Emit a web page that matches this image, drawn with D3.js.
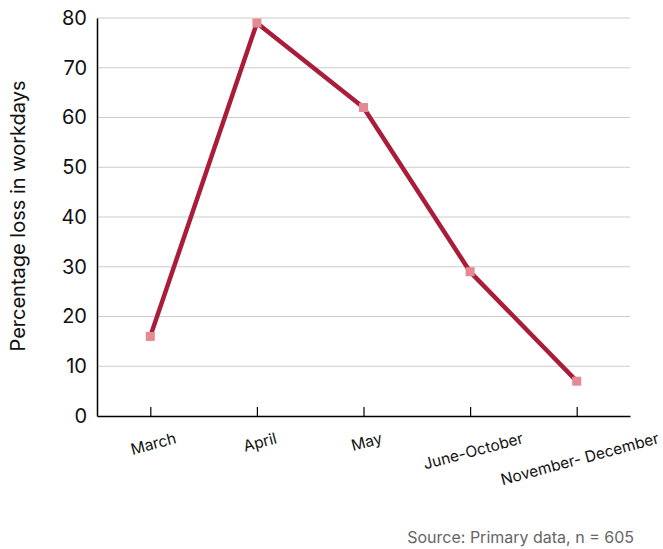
<!DOCTYPE html>
<html><head><meta charset="utf-8">
<script src="https://cdn.jsdelivr.net/npm/d3@7"></script>
<style>body{margin:0;background:#fff;font-family:Inter,"Noto Sans",sans-serif;}</style>
</head><body><svg id="c" width="663" height="549"></svg>
<script>
const categories = ["March","April","May","June-October","November- December"];
const values = [16,79,62,29,7];
const yTicks = [0,10,20,30,40,50,60,70,80];
const yTitle = "Percentage loss in workdays";
const source = "Source: Primary data, n = 605";

const svg = d3.select("#c");
const m = {l:97, r:630, t:18, b:416};
const x = d3.scalePoint().domain(categories).range([m.l, m.r]).padding(0.5);
const y = d3.scaleLinear().domain([0,80]).range([m.b, m.t]);

// gridlines
svg.append("g").selectAll("line").data(yTicks.filter(d=>d>0)).join("line")
  .attr("x1", m.l).attr("x2", m.r).attr("y1", d=>y(d)).attr("y2", d=>y(d))
  .attr("stroke", "#cccccc").attr("stroke-width", 1);

// y axis
const ya = svg.append("g").attr("transform", `translate(${m.l},0)`)
  .call(d3.axisLeft(y).tickValues(yTicks).tickSize(0).tickPadding(10));
ya.select(".domain").attr("stroke", "#000").attr("stroke-width", 1.5);
ya.selectAll("text").attr("font-family","Inter").attr("font-size", 20).attr("fill","#111");

// x axis
const xa = svg.append("g").attr("transform", `translate(0,${m.b})`)
  .call(d3.axisBottom(x).tickSizeInner(-9).tickSizeOuter(0).tickPadding(0));
xa.select(".domain").attr("stroke", "#000").attr("stroke-width", 1.5);
xa.selectAll(".tick line").attr("stroke","#000").attr("stroke-width",1.2);
const ang = 15, s = Math.sin(ang*Math.PI/180);
xa.selectAll("text").attr("font-family","Inter").attr("font-size", 15.5).attr("fill","#111")
  .attr("text-anchor","middle").attr("dy", 0).attr("y", 0)
  .each(function(){
    const w = this.getComputedTextLength();
    d3.select(this).attr("transform", `translate(4,${27 + w/2*s}) rotate(-${ang})`);
  });

// line
svg.append("path").datum(values)
  .attr("d", d3.line().x((d,i)=>x(categories[i])).y(d=>y(d)))
  .attr("fill","none").attr("stroke","#a91d3a").attr("stroke-width",4.5);

// markers
svg.append("g").selectAll("rect").data(values).join("rect")
  .attr("x",(d,i)=>x(categories[i])-4.5).attr("y",d=>y(d)-4.5)
  .attr("width",9).attr("height",9).attr("fill","#e48a93");

// y title
svg.append("text").attr("transform","translate(25,216) rotate(-90)")
  .attr("text-anchor","middle").attr("font-family","Inter").attr("font-size",20).attr("fill","#111")
  .text(yTitle);

// source
svg.append("text").attr("x",634).attr("y",543).attr("text-anchor","end")
  .attr("font-family","Inter").attr("font-size",16).attr("fill","#666").text(source);
</script></body></html>
